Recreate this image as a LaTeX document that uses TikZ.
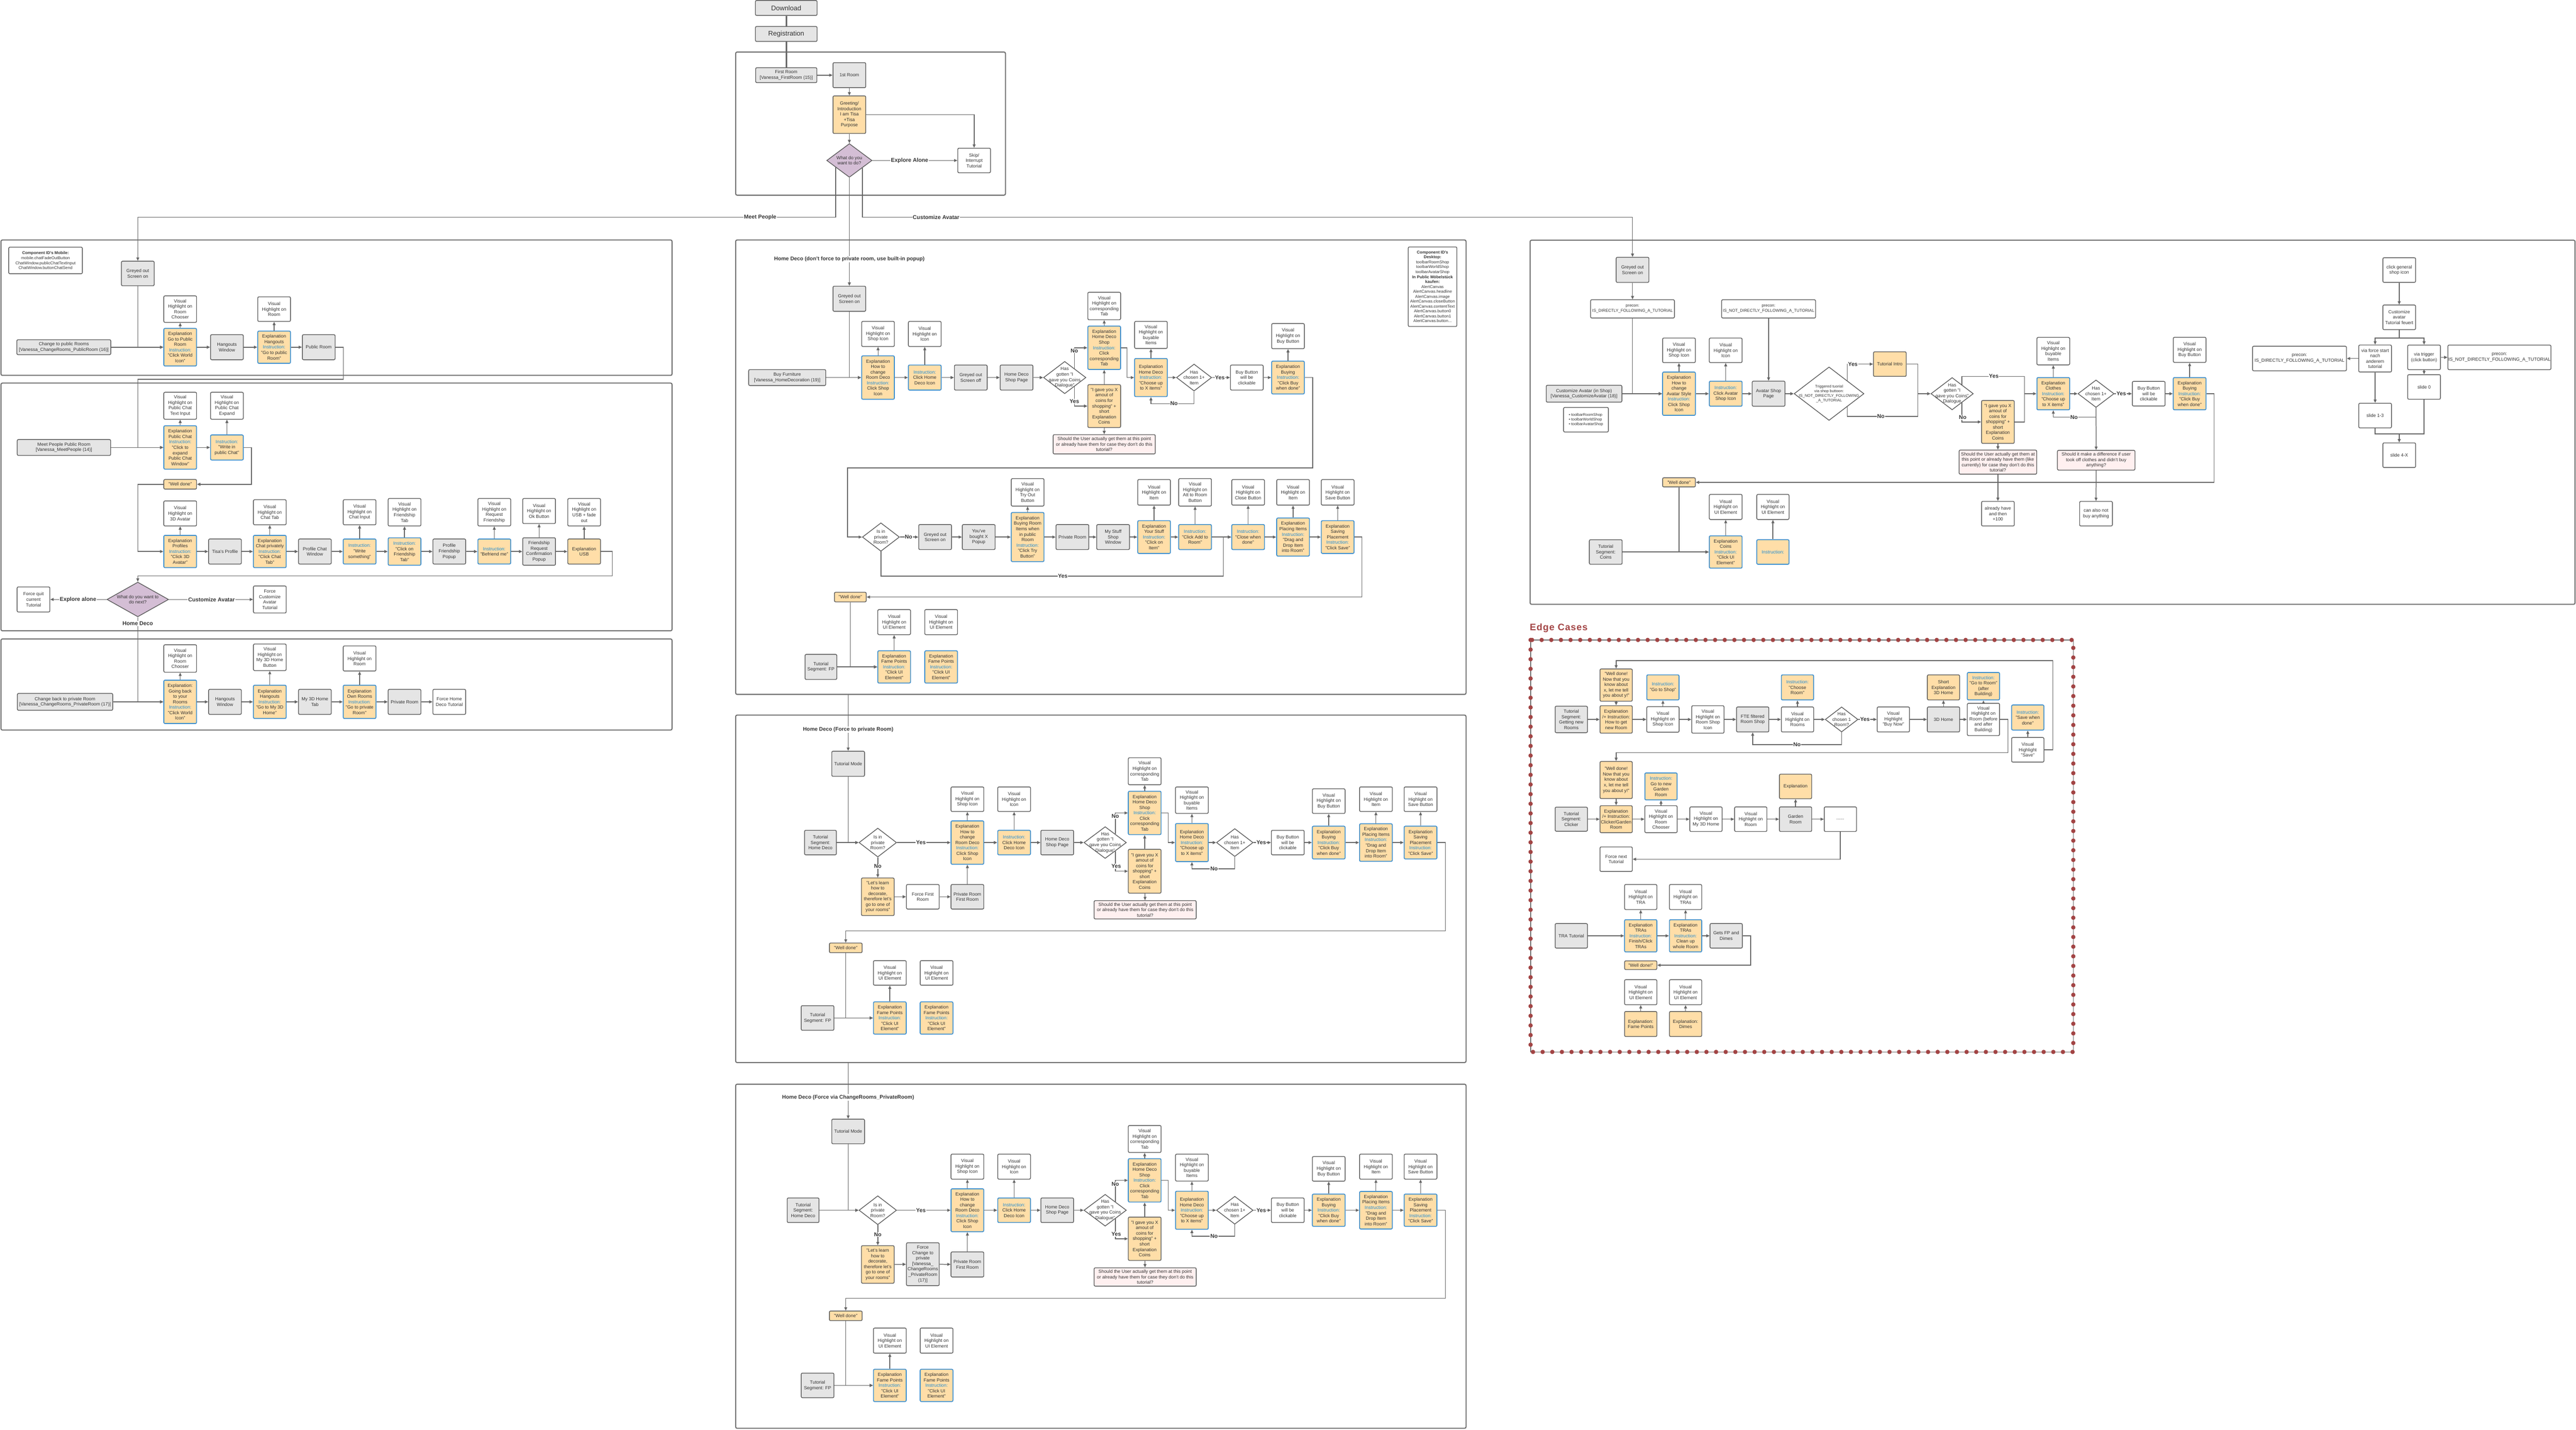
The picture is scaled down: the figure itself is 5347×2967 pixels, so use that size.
\documentclass[tikz,border=0pt]{standalone}
\usepackage{fontspec}
\setmainfont{Liberation Sans}
\usetikzlibrary{shapes.geometric,arrows.meta,calc}
\definecolor{bordc}{HTML}{5C5C5C}
\definecolor{linec}{HTML}{666666}
\definecolor{framec}{HTML}{707070}
\definecolor{grayf}{HTML}{E5E5E5}
\definecolor{orangef}{HTML}{FFDEA8}
\definecolor{bluec}{HTML}{3D8FCF}
\definecolor{insblue}{HTML}{238CD2}
\definecolor{lilac}{HTML}{D4BED5}
\definecolor{pinkf}{HTML}{FFF0F0}
\definecolor{txtc}{HTML}{333333}
\definecolor{edgered}{HTML}{A24444}
\newcommand\FtN{\fontsize{9.5}{11.3}\selectfont}
\newcommand\FtS{\fontsize{8.5}{10.2}\selectfont}
\newcommand\FtX{\fontsize{8}{9.6}\selectfont}
\newcommand\FtB{\bfseries\fontsize{11.5}{13}\selectfont}
\newcommand\FtT{\bfseries\fontsize{11}{13}\selectfont}
\newcommand\FtL{\fontsize{14}{16}\selectfont}
\newcommand\FtE{\bfseries\fontsize{19.5}{22}\selectfont\addfontfeature{LetterSpace=6}}
\newcommand\INS{\textcolor{insblue}{Instruction:}}
\newcommand\MkBox[6]{\node[#1,minimum width=#4,minimum height=#5] (#2) at (#3) {#6};}
\newcommand\MkDia[6]{\node[#1,minimum width=#4,minimum height=#5,label={[dtxt]center:{#6}}] (#2) at (#3) {};}
\tikzset{
 bx/.style={draw=bordc, line width=1.5pt, rounded corners=2.5pt, align=center, inner sep=1pt, font=\FtN, text=txtc},
 gbox/.style={bx, fill=grayf},
 wbox/.style={bx, fill=white},
 obox/.style={bx, fill=orangef, draw=bluec, line width=1.8pt},
 ogbox/.style={bx, fill=orangef},
 pbox/.style={bx, fill=pinkf},
 dia/.style={diamond, draw=bordc, line width=1.5pt, fill=lilac, inner sep=0pt},
 diaw/.style={dia, fill=white},
 dtxt/.style={font=\FtN, align=center, text=txtc, inner sep=0pt},
 ln/.style={draw=linec, line width=1.6pt},
 arr/.style={ln, -{Triangle[length=7pt,width=6pt]}},
 lbl/.style={fill=white, inner sep=1pt, font=\FtB, text=txtc},
 ttl/.style={fill=white, inner sep=1.5pt, font=\FtT, text=txtc},
 frm/.style={draw=framec, line width=2.2pt, rounded corners=3pt},
}
\begin{document}
\begin{tikzpicture}[x=1pt,y=-1pt]
\useasboundingbox (0,0) rectangle (5347,2967);
% ---------------- frames
\draw[frm] (1527,108) rectangle (2087,405);
\draw[frm] (2,498) rectangle (1395,779);
\draw[frm] (2,795) rectangle (1395,1309);
\draw[frm] (2,1326) rectangle (1395,1515);
\draw[frm] (1527,498) rectangle (3043,1441);
\draw[frm] (1527,1484) rectangle (3043,2205);
\draw[frm] (1527,2250) rectangle (3043,2964);
\draw[frm] (3176,498.5) rectangle (5345,1254);
\draw[draw=framec, line width=1.5pt] (3177,1328) rectangle (4303.5,2183);
\draw[draw=edgered, line width=9pt, line cap=round, dash pattern=on 0pt off 20pt] (3177,1328) rectangle (4303.5,2183);
\node[anchor=west, text=edgered, font=\FtE] (edget) at (3172,1303) {Edge Cases};
% ---------------- top
\MkBox{gbox,font=\FtL}{dl}{1632,16.5}{128}{31}{Download}
\MkBox{gbox,font=\FtL}{reg}{1632,70.5}{128}{31}{Registration}
\MkBox{gbox}{fr}{1632,156}{127}{31}{First Room\\{}[Vanessa\_FirstRoom (15)]}
\MkBox{gbox}{r1}{1763,156}{68}{52}{1st Room}
\MkBox{ogbox}{greet}{1763,238}{68}{78}{Greeting/\\Introduction\\I am Tisa\\+Tisa\\Purpose}
\MkDia{dia}{d0}{1763,333}{94}{70}{What do you\\want to do?}
\MkBox{wbox}{skip}{2022,333}{68}{51}{Skip/\\Interrupt\\Tutorial}
% ---------------- left panel 1
\MkBox{wbox,font=\FtS}{cidm}{94.5,540.5}{153}{55}{\textbf{Component ID's Mobile:}\\mobile.chatFadeOutButton\\ChatWindow.publicChatTextInput\\ChatWindow.buttonChatSend}
\MkBox{gbox}{lgo}{286,567.5}{68}{51}{Greyed out\\Screen on}
\MkBox{gbox}{cpr}{132.5,720.5}{195}{31}{Change to public Rooms\\{}[Vanessa\_ChangeRooms\_PublicRoom (16)]}
\MkBox{obox}{egp}{374,720.5}{68}{78}{Explanation\\Go to Public\\Room\\\INS\\"Click World\\Icon"}
\MkBox{wbox}{vrc}{374,641.5}{68}{55}{Visual\\Highlight on\\Room\\Chooser}
\MkBox{gbox}{hw1}{471,720.5}{68}{52}{Hangouts\\Window}
\MkBox{obox}{eh1}{569,720.5}{68}{67}{Explanation\\Hangouts\\\INS\\"Go to public\\Room"}
\MkBox{wbox}{vr1}{569,641.5}{68}{51}{Visual\\Highlight on\\Room}
\MkBox{gbox}{pr1}{661.6,720.5}{68}{52}{Public Room}
% ---------------- left panel 2
\MkBox{wbox}{vpti}{374,842}{68}{56}{Visual\\Highlight on\\Public Chat\\Text Input}
\MkBox{wbox}{vpce}{471,842}{68}{56}{Visual\\Highlight on\\Public Chat\\Expand}
\MkBox{gbox}{mpp}{132.7,928.6}{194}{33}{Meet People Public Room\\{}[Vanessa\_MeetPeople (14)]}
\MkBox{obox}{epc}{374,928.6}{68}{90}{Explanation\\Public Chat\\\INS\\"Click to\\expand\\Public Chat\\Window"}
\MkBox{obox}{iwp}{471,928.6}{68}{52}{\INS\\"Write in\\public Chat"}
\MkBox{ogbox}{wd1}{374,1005}{68}{20}{"Well done"}
\MkBox{obox}{epro}{374,1144.5}{68}{67}{Explanation\\Profiles\\\INS\\"Click 3D\\Avatar"}
\MkBox{wbox}{v3d}{374,1065.5}{68}{52}{Visual\\Highlight on\\3D Avatar}
\MkBox{gbox}{tpro}{467,1144.5}{68}{52}{Tisa's Profile}
\MkBox{obox}{ecp}{560,1144.5}{68}{67}{Explanation\\Chat privately\\\INS\\"Click Chat\\Tab"}
\MkBox{wbox}{vct}{560,1063}{68}{52}{Visual\\Highlight on\\Chat Tab}
\MkBox{gbox}{pcw}{653.6,1144.5}{68}{52}{Profile Chat\\Window}
\MkBox{obox}{iws}{746.4,1144.5}{68}{52}{\INS\\"Write\\something"}
\MkBox{wbox}{vci}{746.4,1063}{68}{52}{Visual\\Highlight on\\Chat Input}
\MkBox{obox}{icft}{839.7,1144.5}{68}{57}{\INS\\"Click on\\Friendship\\Tab"}
\MkBox{wbox}{vft}{839.7,1063}{68}{57}{Visual\\Highlight on\\Friendship\\Tab}
\MkBox{gbox}{pfp}{932.6,1144.5}{68}{52}{Profile\\Friendship\\Popup}
\MkBox{obox}{ibm}{1026,1144.5}{68}{52}{\INS\\"Befriend me"}
\MkBox{wbox}{vrf}{1026,1063}{68}{57}{Visual\\Highlight on\\Request\\Friendship}
\MkBox{gbox}{frc}{1119,1144.5}{68}{57}{Friendship\\Request\\Confirmation\\Popup}
\MkBox{wbox}{vok}{1119,1060.5}{68}{52}{Visual\\Highlight on\\Ok Button}
\MkBox{ogbox}{eusb}{1212.5,1144.5}{68}{52}{Explanation\\USB}
\MkBox{wbox}{vusb}{1212.5,1063}{68}{57}{Visual\\Highlight on\\USB + fade\\out}
\MkDia{dia}{d1}{286,1244}{128}{72}{What do you want to\\do next?}
\MkBox{wbox}{fq}{69.5,1244}{68}{52}{Force quit\\current\\Tutorial}
\MkBox{wbox}{fca}{560,1244}{68}{56}{Force\\Customize\\Avatar\\Tutorial}
% ---------------- left panel 3
\MkBox{gbox}{cbp}{135,1456.5}{198}{35}{Change back to private Room\\{}[Vanessa\_ChangeRooms\_PrivateRoom (17)]}
\MkBox{obox}{egb}{374,1456.5}{68}{90}{Explanation:\\Going back\\to your\\Rooms\\\INS\\"Click World\\Icon"}
\MkBox{wbox}{vrc2}{374,1366.5}{68}{57}{Visual\\Highlight on\\Room\\Chooser}
\MkBox{gbox}{hw2}{467,1456.5}{68}{52}{Hangouts\\Window}
\MkBox{obox}{eh2}{560,1456.5}{68}{69}{Explanation\\Hangouts\\\INS\\"Go to My 3D\\Home"}
\MkBox{wbox}{v3dh}{560,1364}{68}{55}{Visual\\Highlight on\\My 3D Home\\Button}
\MkBox{gbox}{m3t}{653.6,1456.5}{68}{52}{My 3D Home\\Tab}
\MkBox{obox}{eor}{746.4,1456.5}{68}{69}{Explanation\\Own Rooms\\\INS\\"Go to private\\Room"}
\MkBox{wbox}{vr2}{746.4,1366.5}{68}{52}{Visual\\Highlight on\\Room}
\MkBox{gbox}{prv}{839.7,1456.5}{68}{52}{Private Room}
\MkBox{wbox}{fhd}{932.6,1456.5}{68}{52}{Force Home\\Deco Tutorial}
% ---------------- center panel 1
\MkBox{gbox}{cgo}{1763,620}{68}{52}{Greyed out\\Screen on}
\MkBox{gbox}{bf}{1634,783.5}{160}{33}{Buy Furniture\\{}[Vanessa\_HomeDecoration (19)]}
\MkBox{obox}{ehc}{1822.5,783.5}{68}{90}{Explanation\\How to\\change\\Room Deco\\\INS\\Click Shop\\Icon}
\MkBox{wbox}{vsi}{1822.5,693}{68}{52}{Visual\\Highlight on\\Shop Icon}
\MkBox{obox}{ichd}{1919.5,783.5}{68}{52}{\INS\\Click Home\\Deco Icon}
\MkBox{wbox}{vic}{1919.5,693}{68}{52}{Visual\\Highlight on\\Icon}
\MkBox{gbox}{gso}{2015,783.5}{68}{52}{Greyed out\\Screen off}
\MkBox{gbox}{hdsp}{2110,783.5}{68}{52}{Home Deco\\Shop Page}
\MkDia{diaw}{dg}{2210,783.5}{88}{67}{Has\\gotten "I\\gave you Coins\\Dialogue"}
\MkBox{obox}{ehs}{2292,721.7}{68}{90}{Explanation\\Home Deco\\Shop\\\INS\\Click\\corresponding\\Tab}
\MkBox{wbox}{vct1}{2292,635}{68}{57}{Visual\\Highlight on\\corresponding\\Tab}
\MkBox{ogbox}{coin}{2292,842.7}{68}{89}{"I gave you X\\amout of\\coins for\\shopping" +\\short\\Explanation\\Coins}
\MkBox{pbox}{shq}{2292,922}{212}{40}{Should the User actually get them at this point\\or already have them for case they don't do this\\tutorial?}
\MkBox{obox}{ehde}{2389,783.5}{68}{79}{Explanation\\Home Deco\\\INS\\"Choose up\\to X items"}
\MkBox{wbox}{vbi}{2389,695}{68}{56}{Visual\\Highlight on\\buyable\\Items}
\MkDia{diaw}{dc}{2478.5,783.5}{73}{56}{Has\\chosen 1+\\Item}
\MkBox{wbox}{bbc}{2588,783.5}{68}{52}{Buy Button\\will be\\clickable}
\MkBox{obox}{eby}{2673.5,783.5}{68}{68}{Explanation\\Buying\\\INS\\"Click Buy\\when done"}
\MkBox{wbox}{vbb}{2673.5,697.5}{68}{52}{Visual\\Highlight on\\Buy Button}
\MkBox{wbox,font=\FtS}{cidd}{2973.5,595}{101}{165}{\textbf{Component ID's}\\\textbf{Desktop:}\\toolbarRoomShop\\toolbarWorldShop\\toolbarAvatarShop\\\textbf{In Public Möbelstück}\\\textbf{kaufen:}\\AlertCanvas\\AlertCanvas.headline\\AlertCanvas.image\\AlertCanvas.closeButton\\AlertCanvas.contentText\\AlertCanvas.button0\\AlertCanvas.button1\\AlertCanvas.button...}
\MkDia{diaw}{dpr}{1828.5,1114.5}{77}{59}{Is in\\private\\Room?}
\MkBox{gbox}{cgo2}{1941,1114.5}{68}{52}{Greyed out\\Screen on}
\MkBox{gbox}{ybx}{2031.5,1114.5}{68}{52}{You've\\bought X\\Popup}
\MkBox{obox}{ebr}{2133,1114.5}{68}{102}{Explanation\\Buying Room\\Items when\\in public\\Room\\\INS\\"Click Try\\Button"}
\MkBox{wbox}{vto}{2133,1021.7}{68}{57}{Visual\\Highlight on\\Try Out\\Button}
\MkBox{gbox}{prm}{2226,1114.5}{68}{52}{Private Room}
\MkBox{gbox}{mss}{2310.5,1114.5}{68}{52}{My Stuff\\Shop\\Window}
\MkBox{obox}{eys}{2395.5,1114.5}{68}{68}{Explanation\\Your Stuff\\\INS\\"Click on\\Item"}
\MkBox{wbox}{vit1}{2395.5,1021.7}{68}{53}{Visual\\Highlight on\\Item}
\MkBox{obox}{icar}{2480.6,1114.5}{68}{52}{\INS\\"Click Add to\\Room"}
\MkBox{wbox}{var}{2480.6,1021.7}{68}{57}{Visual\\Highlight on\\Att to Room\\Button}
\MkBox{obox}{icwd}{2590.7,1114.5}{68}{52}{\INS\\"Close when\\done"}
\MkBox{wbox}{vcb}{2590.7,1021.7}{68}{53}{Visual\\Highlight on\\Close Button}
\MkBox{obox}{epi}{2684,1114.5}{68}{79}{Explanation\\Placing Items\\\INS\\"Drag and\\Drop Item\\into Room"}
\MkBox{wbox}{vit2}{2684,1021.7}{68}{53}{Visual\\Highlight on\\Item}
\MkBox{obox}{esp}{2776.6,1114.5}{68}{68}{Explanation\\Saving\\Placement\\\INS\\"Click Save"}
\MkBox{wbox}{vsb}{2776.6,1021.7}{68}{53}{Visual\\Highlight on\\Save Button}
\MkBox{ogbox}{wd2}{1765,1239}{66}{20}{"Well done"}
\MkBox{gbox}{tsfp1}{1704,1384}{66}{52}{Tutorial\\Segment: FP}
\MkBox{obox}{efp1}{1856,1384}{68}{67}{Explanation\\Fame Points\\\INS\\"Click UI\\Element"}
\MkBox{wbox}{vui1}{1856,1291}{68}{52}{Visual\\Highlight on\\UI Element}
\MkBox{obox}{efp2}{1953.5,1384}{68}{67}{Explanation\\Fame Points\\\INS\\"Click UI\\Element"}
\MkBox{wbox}{vui2}{1953.5,1291}{68}{52}{Visual\\Highlight on\\UI Element}
% ---------------- center panel 2
\coordinate (p2in) at (1760.5,1441);
\MkBox{gbox}{tm2}{1760.5,1585}{68}{52}{Tutorial Mode}
\MkBox{gbox}{tshd2}{1703,1748.5}{66}{51}{Tutorial\\Segment:\\Home Deco}
\MkDia{diaw}{dp2}{1822,1748.5}{78}{60}{Is in\\private\\Room?}
\MkBox{obox}{ehc2}{2008,1748.5}{68}{90}{Explanation\\How to\\change\\Room Deco\\\INS\\Click Shop\\Icon}
\MkBox{wbox}{vsi2}{2008,1658.5}{68}{51}{Visual\\Highlight on\\Shop Icon}
\MkBox{obox}{ichd2}{2105,1748.5}{68}{51}{\INS\\Click Home\\Deco Icon}
\MkBox{wbox}{vic2}{2105,1658.5}{68}{51}{Visual\\Highlight on\\Icon}
\MkBox{gbox}{hdsp2}{2194.5,1748.5}{68}{51}{Home Deco\\Shop Page}
\MkDia{diaw}{dg2}{2294,1748.5}{88}{66}{Has\\gotten "I\\gave you Coins\\Dialogue"}
\MkBox{obox}{ehs2}{2376,1687}{68}{90}{Explanation\\Home Deco\\Shop\\\INS\\Click\\corresponding\\Tab}
\MkBox{wbox}{vct2}{2376,1600.5}{68}{56}{Visual\\Highlight on\\corresponding\\Tab}
\MkBox{ogbox}{coin2}{2376,1808}{68}{91}{"I gave you X\\amout of\\coins for\\shopping" +\\short\\Explanation\\Coins}
\MkBox{pbox}{shq2}{2377,1888}{212}{38}{Should the User actually get them at this point\\or already have them for case they don't do this\\tutorial?}
\MkBox{obox}{ehde2}{2474,1748.5}{68}{79}{Explanation\\Home Deco\\\INS\\"Choose up\\to X items"}
\MkBox{wbox}{vbi2}{2474,1660.5}{68}{55}{Visual\\Highlight on\\buyable\\Items}
\MkDia{diaw}{dc2}{2563,1748.5}{76}{58}{Has\\chosen 1+\\Item}
\MkBox{wbox}{bbc2}{2673,1748.5}{68}{51}{Buy Button\\will be\\clickable}
\MkBox{obox}{eby2}{2758,1748.5}{68}{68}{Explanation\\Buying\\\INS\\"Click Buy\\when done"}
\MkBox{wbox}{vbb2}{2758,1662.5}{68}{51}{Visual\\Highlight on\\Buy Button}
\MkBox{obox}{epi2}{2856,1748.5}{68}{78}{Explanation\\Placing Items\\\INS\\"Drag and\\Drop Item\\into Room"}
\MkBox{wbox}{vit3}{2856,1658.5}{68}{51}{Visual\\Highlight on\\Item}
\MkBox{obox}{esp2}{2948.6,1748.5}{68}{68}{Explanation\\Saving\\Placement\\\INS\\"Click Save"}
\MkBox{wbox}{vsb2}{2948.6,1658.5}{68}{51}{Visual\\Highlight on\\Save Button}
\MkBox{ogbox}{ll2}{1822,1861}{68}{78}{"Let's learn\\how to\\decorate,\\therefore let's\\go to one of\\your rooms"}
\MkBox{wbox}{ffr}{1915.5,1861}{68}{51}{Force First\\Room}
\MkBox{gbox}{prfr}{2008,1861}{68}{51}{Private Room\\First Room}
\MkBox{ogbox}{wd3}{1755.5,1967}{68}{20}{"Well done"}
\MkBox{gbox}{tsfp2}{1697,2112.5}{68}{51}{Tutorial\\Segment: FP}
\MkBox{obox}{efp3}{1847,2112.5}{68}{67}{Explanation\\Fame Points\\\INS\\"Click UI\\Element"}
\MkBox{wbox}{vui3}{1847,2019}{68}{51}{Visual\\Highlight on\\UI Element}
\MkBox{obox}{efp4}{1944,2112.5}{68}{67}{Explanation\\Fame Points\\\INS\\"Click UI\\Element"}
\MkBox{wbox}{vui4}{1944,2019}{68}{51}{Visual\\Highlight on\\UI Element}
% ---------------- center panel 3
\coordinate (p3in) at (1760.5,2205);
\MkBox{gbox}{tm3}{1760.5,2348}{68}{51}{Tutorial Mode}
\MkBox{gbox}{tshd3}{1667,2511.5}{66}{51}{Tutorial\\Segment:\\Home Deco}
\MkDia{diaw}{dp3}{1822,2511.5}{78}{60}{Is in\\private\\Room?}
\MkBox{obox}{ehc3}{2008,2511.5}{68}{89}{Explanation\\How to\\change\\Room Deco\\\INS\\Click Shop\\Icon}
\MkBox{wbox}{vsi3}{2008,2421}{68}{52}{Visual\\Highlight on\\Shop Icon}
\MkBox{obox}{ichd3}{2105,2511.5}{68}{51}{\INS\\Click Home\\Deco Icon}
\MkBox{wbox}{vic3}{2105,2421}{68}{52}{Visual\\Highlight on\\Icon}
\MkBox{gbox}{hdsp3}{2194.5,2511.5}{68}{51}{Home Deco\\Shop Page}
\MkDia{diaw}{dg3}{2294,2511.5}{88}{66}{Has\\gotten "I\\gave you Coins\\Dialogue"}
\MkBox{obox}{ehs3}{2376,2449.5}{68}{90}{Explanation\\Home Deco\\Shop\\\INS\\Click\\corresponding\\Tab}
\MkBox{wbox}{vct3}{2376,2363.6}{68}{56}{Visual\\Highlight on\\corresponding\\Tab}
\MkBox{ogbox}{coin3}{2376,2570.7}{68}{90}{"I gave you X\\amout of\\coins for\\shopping" +\\short\\Explanation\\Coins}
\MkBox{pbox}{shq3}{2377,2650}{212}{38}{Should the User actually get them at this point\\or already have them for case they don't do this\\tutorial?}
\MkBox{obox}{ehde3}{2474,2511.5}{68}{79}{Explanation\\Home Deco\\\INS\\"Choose up\\to X items"}
\MkBox{wbox}{vbi3}{2474,2423}{68}{56}{Visual\\Highlight on\\buyable\\Items}
\MkDia{diaw}{dc3}{2563,2511.5}{76}{58}{Has\\chosen 1+\\Item}
\MkBox{wbox}{bbc3}{2673,2511.5}{68}{51}{Buy Button\\will be\\clickable}
\MkBox{obox}{eby3}{2758,2511.5}{68}{67}{Explanation\\Buying\\\INS\\"Click Buy\\when done"}
\MkBox{wbox}{vbb3}{2758,2425.6}{68}{51}{Visual\\Highlight on\\Buy Button}
\MkBox{obox}{epi3}{2856,2511.5}{68}{78}{Explanation\\Placing Items\\\INS\\"Drag and\\Drop Item\\into Room"}
\MkBox{wbox}{vit4}{2856,2421}{68}{52}{Visual\\Highlight on\\Item}
\MkBox{obox}{esp3}{2948.6,2511.5}{68}{67}{Explanation\\Saving\\Placement\\\INS\\"Click Save"}
\MkBox{wbox}{vsb3}{2948.6,2421}{68}{52}{Visual\\Highlight on\\Save Button}
\MkBox{ogbox}{ll3}{1822,2624}{68}{78}{"Let's learn\\how to\\decorate,\\therefore let's\\go to one of\\your rooms"}
\MkBox{gbox}{fcp}{1915.5,2623.5}{68}{89}{Force\\Change to\\private\\{}[Vanessa\_\\ChangeRooms\\\_PrivateRoom\\(17)]}
\MkBox{gbox}{prfr3}{2008,2624}{68}{52}{Private Room\\First Room}
\MkBox{ogbox}{wd4}{1755.5,2730.6}{68}{20}{"Well done"}
\MkBox{gbox}{tsfp3}{1697,2875}{68}{51}{Tutorial\\Segment: FP}
\MkBox{obox}{efp5}{1847,2875}{68}{67}{Explanation\\Fame Points\\\INS\\"Click UI\\Element"}
\MkBox{wbox}{vui5}{1847,2782}{68}{52}{Visual\\Highlight on\\UI Element}
\MkBox{obox}{efp6}{1944,2875}{68}{67}{Explanation\\Fame Points\\\INS\\"Click UI\\Element"}
\MkBox{wbox}{vui6}{1944,2782}{68}{52}{Visual\\Highlight on\\UI Element}
% ---------------- right panel
\MkBox{gbox}{rgo}{3388.6,560}{68}{52}{Greyed out\\Screen on}
\MkBox{wbox,font=\FtS}{pre1}{3388.6,641}{174}{38}{precon:\\IS\_DIRECTLY\_FOLLOWING\_A\_TUTORIAL}
\MkBox{gbox}{cav}{3288,817}{157}{35}{Customize Avatar (in Shop)\\{}[Vanessa\_CustomizeAvatar (18)]}
\MkBox{wbox,font=\FtX,align=left}{tbl}{3292,871}{93}{51}{\textbullet\ toolbarRoomShop\\\textbullet\ toolbarWorldShop\\\textbullet\ toolbarAvatarShop}
\MkBox{obox}{eas}{3485,817}{68}{90}{Explanation\\How to\\change\\Avatar Style\\\INS\\Click Shop\\Icon}
\MkBox{wbox}{vsi4}{3485,727}{68}{51}{Visual\\Highlight on\\Shop Icon}
\MkBox{obox}{icas}{3582,817}{68}{52}{\INS\\Click Avatar\\Shop Icon}
\MkBox{wbox}{vic4}{3582,727}{68}{51}{Visual\\Highlight on\\Icon}
\MkBox{gbox}{asp}{3671,817}{68}{52}{Avatar Shop\\Page}
\MkBox{wbox,font=\FtS}{pre2}{3671,641}{195}{38}{precon:\\IS\_NOT\_DIRECTLY\_FOLLOWING\_A\_TUTORIAL}
\node[diaw,minimum width=145,minimum height=111,label={[dtxt,font=\FtX]center:{Triggered tuorial\\via shop buttoon:\\IS\_NOT\_DIRECTLY\_FOLLOWING\\\_A\_TUTORIAL}}] (dtt) at (3796.5,817) {};
\MkBox{ogbox}{tin}{3922.7,755.6}{68}{51}{Tutorial Intro}
\MkDia{diaw}{dg4}{4052,817}{88}{67}{Has\\gotten "I\\gave you Coins"\\Dialogue}
\MkBox{ogbox}{coin4}{4147,875.6}{68}{89}{"I gave you X\\amout of\\coins for\\shopping" +\\short\\Explanation\\Coins}
\MkBox{pbox}{shq4}{4147,959}{161}{50}{Should the User actually get them at\\this point or already have them (like\\currently) for case they don't do this\\tutorial?}
\MkBox{wbox}{aht}{4147,1066}{68}{51}{already have\\and then\\+100}
\MkBox{obox}{ecl}{4262,817}{68}{67}{Explanation\\Clothes\\\INS\\"Choose up\\to X items"}
\MkBox{wbox}{vbi4}{4262,728.7}{68}{57}{Visual\\Highlight on\\buyable\\Items}
\MkDia{diaw}{dc4}{4350.6,817}{75}{57}{Has\\chosen 1+\\Item}
\MkBox{wbox}{bbc4}{4460,817}{68}{51}{Buy Button\\will be\\clickable}
\MkBox{obox}{eby4}{4545,817}{68}{67}{Explanation\\Buying\\\INS\\"Click Buy\\when done"}
\MkBox{wbox}{vbb4}{4545,726}{68}{52}{Visual\\Highlight on\\Buy Button}
\MkBox{pbox}{smd}{4351,955}{161}{41}{Should it make a difference if user\\took off clothes and didn't buy\\anything?}
\MkBox{wbox}{cnb}{4350.6,1066}{68}{51}{can also not\\buy anything}
\MkBox{ogbox}{wd5}{3485,1001}{68}{19}{"Well done"}
\MkBox{gbox}{tsc}{3333,1145.5}{68}{51}{Tutorial\\Segment:\\Coins}
\MkBox{obox}{ecn}{3582,1145.5}{68}{67}{Explanation\\Coins\\\INS\\"Click UI\\Element"}
\MkBox{wbox}{vui7}{3582,1052}{68}{52}{Visual\\Highlight on\\UI Element}
\MkBox{obox}{ins8}{3680,1145.5}{67}{51}{\INS}
\MkBox{wbox}{vui8}{3680,1052}{67}{52}{Visual\\Highlight on\\UI Element}
\MkBox{wbox}{cgs}{4980,560.4}{68}{51}{click general\\shop icon}
\MkBox{wbox}{catf}{4980,658.5}{68}{51}{Customize\\avatar\\Tutorial feuert}
\MkBox{wbox}{vfs}{4930,744}{68}{56}{via force start\\nach\\anderem\\tutorial}
\MkBox{wbox}{vtr}{5031.6,741.6}{68}{51}{via trigger\\(click button)}
\MkBox{wbox}{pre3}{4773,744}{195}{51}{precon:\\IS\_DIRECTLY\_FOLLOWING\_A\_TUTORIAL}
\MkBox{wbox}{pre4}{5188,741.6}{196}{51}{precon:\\IS\_NOT\_DIRECTLY\_FOLLOWING\_A\_TUTORIAL}
\MkBox{wbox}{s0}{5031.6,803}{68}{51}{slide 0}
\MkBox{wbox}{s13}{4930,862.4}{68}{51}{slide 1-3}
\MkBox{wbox}{s4x}{4980,944.6}{68}{51}{slide 4-X}
\coordinate (mj) at (4980,900.4);
% ---------------- edge cases
\MkBox{gbox}{tsg}{3261.5,1493}{67}{55}{Tutorial\\Segment:\\Getting new\\Rooms}
\MkBox{ogbox}{wdn1}{3354.6,1421.7}{67}{67}{"Well done!\\Now that you\\know about\\x, let me tell\\you about y!"}
\MkBox{ogbox}{ehg}{3354.6,1493}{67}{57}{Explanation\\/+ Instruction:\\How to get\\new Room}
\MkBox{wbox}{vsi5}{3451.7,1493}{67}{53}{Visual\\Highlight on\\Shop Icon}
\MkBox{obox}{igs}{3451.7,1426.5}{67}{52}{\INS\\"Go to Shop"}
\MkBox{wbox}{vrsi}{3545,1493}{67}{57}{Visual\\Highlight on\\Room Shop\\Icon}
\MkBox{gbox}{fte}{3638,1493}{67}{52}{FTE filtered\\Room Shop}
\MkBox{wbox}{vrm}{3731,1493}{67}{52}{Visual\\Highlight on\\Rooms}
\MkBox{obox}{icr}{3731,1426.5}{67}{52}{\INS\\"Choose\\Room"}
\MkDia{diaw}{dcr}{3822.6,1493}{68}{52}{Has\\chosen 1\\Room?}
\MkBox{wbox}{vbn}{3930,1493}{67}{52}{Visual\\Highlight\\"Buy Now"}
\MkBox{gbox}{h3d}{4034,1493}{67}{52}{3D Home}
\MkBox{ogbox}{se3d}{4034,1426.5}{67}{52}{Short\\Explanation\\3D Home}
\MkBox{wbox}{vrba}{4117,1493}{67}{67}{Visual\\Highlight on\\Room (before\\and after\\Building)}
\MkBox{obox}{igr}{4117,1424}{67}{57}{\INS\\"Go to Room"\\(after\\Building)}
\MkBox{wbox}{vsv}{4209,1556}{67}{51}{Visual\\Highlight\\"Save"}
\MkBox{obox}{isd}{4209,1489}{67}{52}{\INS\\"Save when\\done"}
\MkBox{gbox}{tsc2}{3261.5,1700}{67}{50}{Tutorial\\Segment:\\Clicker}
\MkBox{ogbox}{wdn2}{3354.6,1618.7}{67}{77}{"Well done!\\Now that you\\know about\\x, let me tell\\you about y!"}
\MkBox{ogbox}{ecg}{3354.6,1700}{67}{56}{Explanation\\/+ Instruction:\\Clicker/Garden\\Room}
\MkBox{wbox}{vrc5}{3447.7,1700}{67}{56}{Visual\\Highlight on\\Room\\Chooser}
\MkBox{obox}{igg}{3447.7,1632}{67}{56}{\INS\\Go to new\\Garden\\Room}
\MkBox{wbox}{vm3}{3541,1700}{67}{51}{Visual\\Highlight on\\My 3D Home}
\MkBox{wbox}{vrm5}{3634,1700}{67}{51}{Visual\\Highlight on\\Room}
\MkBox{gbox}{gdr}{3727,1700}{67}{51}{Garden\\Room}
\MkBox{ogbox}{exg}{3727,1632}{67}{51}{Explanation}
\MkBox{wbox}{dots}{3820,1700}{67}{51}{......}
\MkBox{wbox}{fnt}{3354.6,1783}{67}{51}{Force next\\Tutorial}
\MkBox{gbox}{tra}{3261.5,1942}{67}{51}{TRA Tutorial}
\MkBox{obox}{etr1}{3405.6,1942}{67}{67}{Explanation\\TRAs\\\INS\\Finish/Click\\TRAs}
\MkBox{wbox}{vtra}{3405.6,1861.5}{67}{52}{Visual\\Highlight on\\TRA}
\MkBox{obox}{etr2}{3498.7,1942}{67}{67}{Explanation\\TRAs\\\INS\\Clean up\\whole Room}
\MkBox{wbox}{vtras}{3498.7,1861.5}{67}{52}{Visual\\Highlight on\\TRAs}
\MkBox{gbox}{gfp}{3583,1942}{67}{51}{Gets FP and\\Dimes}
\MkBox{ogbox}{wdn3}{3405.6,2003}{67}{18}{"Well done!"}
\MkBox{wbox}{vuif}{3405.6,2059}{67}{52}{Visual\\Highlight on\\UI Element}
\MkBox{wbox}{vuid}{3498.7,2059}{67}{52}{Visual\\Highlight on\\UI Element}
\MkBox{ogbox}{efpx}{3405.6,2125}{67}{52}{Explanation:\\Fame Points}
\MkBox{ogbox}{edm}{3498.7,2125}{67}{52}{Explanation:\\Dimes}
% ================= connectors
% top
\draw[ln,line width=3pt] (dl) -- (reg);
\draw[ln,line width=3pt] (reg) -- (fr);
\draw[arr] (fr) -- (r1);
\draw[arr] (r1) -- (greet);
\draw[arr] (greet) -- (d0);
\draw[arr] (greet) -| (skip);
\draw[arr] (d0) -- (skip);
\draw[arr] ($(d0.south)!0.6!(d0.west)$) |- (286,451) -- (lgo);
\draw[arr] ($(d0.south)!0.57!(d0.east)$) |- (3388.6,451) -- (rgo);
\draw[arr] (d0) -- (cgo);
% left panel 1
\draw[arr] (cpr) -- (egp);
\draw[arr] (lgo) |- (egp);
\draw[arr] (egp) -- (vrc);
\draw[arr] (egp) -- (hw1);
\draw[arr] (hw1) -- (eh1);
\draw[arr] (eh1) -- (vr1);
\draw[arr] (eh1) -- (pr1);
\draw[arr] (pr1) -| (712.6,787) -| (286,928.6) -- (epc);
% left panel 2
\draw[arr] (mpp) -- (epc);
\draw[arr] (epc) -- (vpti);
\draw[arr] (epc) -- (iwp);
\draw[arr] (iwp) -- (vpce);
\draw[arr] (iwp) -| (522,1005) -- (wd1);
\draw[arr] (wd1) -| (286,1144.5) -- (epro);
\draw[arr] (epro) -- (v3d);
\draw[arr] (epro) -- (tpro);
\draw[arr] (tpro) -- (ecp);
\draw[arr] (ecp) -- (vct);
\draw[arr] (ecp) -- (pcw);
\draw[arr] (pcw) -- (iws);
\draw[arr] (iws) -- (vci);
\draw[arr] (iws) -- (icft);
\draw[arr] (icft) -- (vft);
\draw[arr] (icft) -- (pfp);
\draw[arr] (pfp) -- (ibm);
\draw[arr] (ibm) -- (vrf);
\draw[arr] (ibm) -- (frc);
\draw[arr] (frc) -- (vok);
\draw[arr] (frc) -- (eusb);
\draw[arr] (eusb) -- (vusb);
\draw[arr] (eusb) -| (1271,1195) -| (d1.north);
\draw[arr] (d1) -- (fq);
\draw[arr] (d1) -- (fca);
\draw[arr] (d1) |- (egb);
% left panel 3
\draw[arr] (cbp) -- (egb);
\draw[arr] (egb) -- (vrc2);
\draw[arr] (egb) -- (hw2);
\draw[arr] (hw2) -- (eh2);
\draw[arr] (eh2) -- (v3dh);
\draw[arr] (eh2) -- (m3t);
\draw[arr] (m3t) -- (eor);
\draw[arr] (eor) -- (vr2);
\draw[arr] (eor) -- (prv);
\draw[arr] (prv) -- (fhd);
% center panel 1
\draw[arr] (bf) -- (ehc);
\draw[arr] (cgo) |- (ehc);
\draw[arr] (ehc) -- (vsi);
\draw[arr] (ehc) -- (ichd);
\draw[arr] (ichd) -- (vic);
\draw[arr] (ichd) -- (gso);
\draw[arr] (gso) -- (hdsp);
\draw[arr] (hdsp) -- (dg);
\draw[arr] ($(dg.north)!0.45!(dg.east)$) |- (ehs);
\draw[arr] ($(dg.south)!0.45!(dg.east)$) |- (coin);
\draw[arr] (coin) -- (ehs);
\draw[arr] (coin) -- (shq);
\draw[arr] (ehs) -- (vct1);
\draw[arr] (ehs) -| (2339.5,783.5) -- (ehde);
\draw[arr] (ehde) -- (vbi);
\draw[arr] (ehde) -- (dc);
\draw[arr] (dc) |- (2389,837.7) -- (ehde);
\draw[arr] (dc) -- (bbc);
\draw[arr] (bbc) -- (eby);
\draw[arr] (eby) -- (vbb);
\draw[arr] (eby) -| (2725,971) -| (1759,1114.5) -- (dpr);
\draw[arr] (dpr) -- (cgo2);
\draw[arr] (cgo2) -- (ybx);
\draw[arr] (ybx) -- (ebr);
\draw[arr] (ebr) -- (vto);
\draw[arr] (ebr) -- (prm);
\draw[arr] (prm) -- (mss);
\draw[arr] (mss) -- (eys);
\draw[arr] (eys) -- (vit1);
\draw[arr] (eys) -- (icar);
\draw[arr] (icar) -- (var);
\draw[arr] (icar) -- (icwd);
\draw[arr] (dpr) |- (2539.5,1195.7) |- (icwd);
\draw[arr] (icwd) -- (vcb);
\draw[arr] (icwd) -- (epi);
\draw[arr] (epi) -- (vit2);
\draw[arr] (epi) -- (esp);
\draw[arr] (esp) -- (vsb);
\draw[arr] (esp) -| (2827,1239) -- (wd2);
\draw[arr] (wd2) |- (efp1);
\draw[arr] (tsfp1) -- (efp1);
\draw[arr] (efp1) -- (vui1);
% center panel 2
\draw[arr] (p2in) -- (tm2);
\draw[arr] (tm2) |- (dp2);
\draw[arr] (tshd2) -- (dp2);
\draw[arr] (dp2) -- (ehc2);
\draw[arr] (dp2) -- (ll2);
\draw[arr] (ll2) -- (ffr);
\draw[arr] (ffr) -- (prfr);
\draw[arr] (prfr) -- (ehc2);
\draw[arr] (ehc2) -- (vsi2);
\draw[arr] (ehc2) -- (ichd2);
\draw[arr] (ichd2) -- (vic2);
\draw[arr] (ichd2) -- (hdsp2);
\draw[arr] (hdsp2) -- (dg2);
\draw[arr] ($(dg2.north)!0.47!(dg2.east)$) |- (ehs2);
\draw[arr] ($(dg2.south)!0.47!(dg2.east)$) |- (coin2);
\draw[arr] (coin2) -- (ehs2);
\draw[arr] (coin2) -- (shq2);
\draw[arr] (ehs2) -- (vct2);
\draw[arr] (ehs2) -| (2425,1748.5) -- (ehde2);
\draw[arr] (ehde2) -- (vbi2);
\draw[arr] (ehde2) -- (dc2);
\draw[arr] (dc2) |- (2474,1802.8) -- (ehde2);
\draw[arr] (dc2) -- (bbc2);
\draw[arr] (bbc2) -- (eby2);
\draw[arr] (eby2) -- (vbb2);
\draw[arr] (eby2) -- (epi2);
\draw[arr] (epi2) -- (vit3);
\draw[arr] (epi2) -- (esp2);
\draw[arr] (esp2) -- (vsb2);
\draw[arr] (esp2) -| (3000,1932) -| (wd3);
\draw[arr] (wd3) |- (efp3);
\draw[arr] (tsfp2) -- (efp3);
\draw[arr] (efp3) -- (vui3);
% center panel 3
\draw[arr] (p3in) -- (tm3);
\draw[arr] (tm3) |- (dp3);
\draw[arr] (tshd3) -- (dp3);
\draw[arr] (dp3) -- (ehc3);
\draw[arr] (dp3) -- (ll3);
\draw[arr] (ll3) -- (fcp);
\draw[arr] (fcp) -- (prfr3);
\draw[arr] (prfr3) -- (ehc3);
\draw[arr] (ehc3) -- (vsi3);
\draw[arr] (ehc3) -- (ichd3);
\draw[arr] (ichd3) -- (vic3);
\draw[arr] (ichd3) -- (hdsp3);
\draw[arr] (hdsp3) -- (dg3);
\draw[arr] ($(dg3.north)!0.47!(dg3.east)$) |- (ehs3);
\draw[arr] ($(dg3.south)!0.47!(dg3.east)$) |- (coin3);
\draw[arr] (coin3) -- (ehs3);
\draw[arr] (coin3) -- (shq3);
\draw[arr] (ehs3) -- (vct3);
\draw[arr] (ehs3) -| (2425,2511.5) -- (ehde3);
\draw[arr] (ehde3) -- (vbi3);
\draw[arr] (ehde3) -- (dc3);
\draw[arr] (dc3) |- (2474,2565.5) -- (ehde3);
\draw[arr] (dc3) -- (bbc3);
\draw[arr] (bbc3) -- (eby3);
\draw[arr] (eby3) -- (vbb3);
\draw[arr] (eby3) -- (epi3);
\draw[arr] (epi3) -- (vit4);
\draw[arr] (epi3) -- (esp3);
\draw[arr] (esp3) -- (vsb3);
\draw[arr] (esp3) -| (3000,2694.4) -| (wd4);
\draw[arr] (wd4) |- (efp5);
\draw[arr] (tsfp3) -- (efp5);
\draw[arr] (efp5) -- (vui5);
% right panel
\draw[arr] (rgo) -- (pre1);
\draw[arr] (pre1) |- (eas);
\draw[arr] (cav) -- (eas);
\draw[arr] (eas) -- (vsi4);
\draw[arr] (eas) -- (icas);
\draw[arr] (icas) -- (vic4);
\draw[arr] (icas) -- (asp);
\draw[arr] (pre2) -- (asp);
\draw[arr] (asp) -- (dtt);
\draw[arr] ($(dtt.north)!0.517!(dtt.east)$) |- (tin);
\draw[ln] (tin) -| (3980.7,817);
\draw[arr] ($(dtt.south)!0.517!(dtt.east)$) |- (3980.7,864) |- (dg4);
\draw[arr] ($(dg4.north)!0.455!(dg4.east)$) |- (4202,781) |- (ecl);
\draw[arr] ($(dg4.south)!0.455!(dg4.east)$) |- (coin4);
\draw[ln] (coin4) -| (4202,817);
\draw[arr] (coin4) -- (shq4);
\draw[arr] (shq4) -- (aht);
\draw[arr] (ecl) -- (vbi4);
\draw[arr] (ecl) -- (dc4);
\draw[arr] (dc4) |- (4262,865.6) -- (ecl);
\draw[arr] (dc4) -- (smd);
\draw[arr] (smd) -- (cnb);
\draw[arr] (dc4) -- (bbc4);
\draw[arr] (bbc4) -- (eby4);
\draw[arr] (eby4) -- (vbb4);
\draw[arr] (eby4) -| (4595.7,1001) -- (wd5);
\draw[arr] (wd5) |- (ecn);
\draw[arr] (tsc) -- (ecn);
\draw[arr] (ecn) -- (vui7);
\draw[arr] (ins8) -- (vui8);
\draw[arr] (cgs) -- (catf);
\draw[arr] (catf) |- (4980,701.4) -| (vfs);
\draw[arr] (catf) |- (4980,701.4) -| (vtr);
\draw[arr] (vfs) -- (pre3);
\draw[arr] (vtr) -- (pre4);
\draw[arr] (vtr) -- (s0);
\draw[arr] (vfs) -- (s13);
\draw[ln] (s13) |- (mj);
\draw[ln] (s0) |- (mj);
\draw[arr] (mj) -- (s4x);
% edge cases
\draw[arr] (tsg) -- (ehg);
\draw[arr] (wdn1) -- (ehg);
\draw[arr] (ehg) -- (vsi5);
\draw[arr] (vsi5) -- (igs);
\draw[arr] (vsi5) -- (vrsi);
\draw[arr] (vrsi) -- (fte);
\draw[arr] (fte) -- (vrm);
\draw[arr] (vrm) -- (icr);
\draw[arr] (vrm) -- (dcr);
\draw[arr] (dcr) |- (3638,1545) -- (fte);
\draw[arr] (dcr) -- (vbn);
\draw[arr] (vbn) -- (h3d);
\draw[arr] (h3d) -- (se3d);
\draw[arr] (h3d) -- (vrba);
\draw[arr] (vrba) -- (igr);
\draw[arr] (vsv) -- (isd);
\draw[arr] (vrba) -| (4168,1561.7) -| (wdn2);
\draw[arr] (vsv) -| (4261,1371) -| (wdn1);
\draw[arr] (tsc2) -- (ecg);
\draw[arr] (wdn2) -- (ecg);
\draw[arr] (ecg) -- (vrc5);
\draw[arr] (vrc5) -- (igg);
\draw[arr] (vrc5) -- (vm3);
\draw[arr] (vm3) -- (vrm5);
\draw[arr] (vrm5) -- (gdr);
\draw[arr] (gdr) -- (exg);
\draw[arr] (gdr) -- (dots);
\draw[arr] (dots) |- (fnt);
\draw[arr] (tra) -- (etr1);
\draw[arr] (etr1) -- (vtra);
\draw[arr] (etr1) -- (etr2);
\draw[arr] (etr2) -- (vtras);
\draw[arr] (etr2) -- (gfp);
\draw[arr] (gfp) -| (3633.7,2003) -- (wdn3);
\draw[arr] (efpx) -- (vuif);
\draw[arr] (edm) -- (vuid);
% ================= labels
\node[lbl] at (1888,333) {Explore Alone};
\node[lbl] at (1578,451) {Meet People};
\node[lbl] at (1943,451) {Customize Avatar};
\node[lbl] at (162,1244) {Explore alone};
\node[lbl] at (439,1244) {Customize Avatar};
\node[lbl] at (286,1294) {Home Deco};
\node[ttl] at (1763,538) {Home Deco (don't force to private room, use built-in popup)};
\node[ttl] at (1760.5,1514.4) {Home Deco (Force to private Room)};
\node[ttl] at (1760.5,2277.4) {Home Deco (Force via ChangeRooms\_PrivateRoom)};
\node[lbl] at (2230,728) {No};
\node[lbl] at (2230,833) {Yes};
\node[lbl] at (2437,837.7) {No};
\node[lbl] at (2532,783.5) {Yes};
\node[lbl] at (1886,1114.5) {No};
\node[lbl] at (2206,1195.7) {Yes};
\node[lbl] at (1911.5,1748.5) {Yes};
\node[lbl] at (1822,1798) {No};
\node[lbl] at (2315,1694) {No};
\node[lbl] at (2317,1797.7) {Yes};
\node[lbl] at (2520,1802.8) {No};
\node[lbl] at (2618,1748.5) {Yes};
\node[lbl] at (1911.5,2511.5) {Yes};
\node[lbl] at (1822,2562) {No};
\node[lbl] at (2315,2457) {No};
\node[lbl] at (2317,2561) {Yes};
\node[lbl] at (2520,2565.5) {No};
\node[lbl] at (2618,2511.5) {Yes};
\node[lbl] at (3846,755.6) {Yes};
\node[lbl] at (3904,864) {No};
\node[lbl] at (4138.5,781) {Yes};
\node[lbl] at (4074,866) {No};
\node[lbl] at (4305,865.6) {No};
\node[lbl] at (4403,817) {Yes};
\node[lbl] at (3730,1545) {No};
\node[lbl] at (3871,1493) {Yes};
\end{tikzpicture}
\end{document}
